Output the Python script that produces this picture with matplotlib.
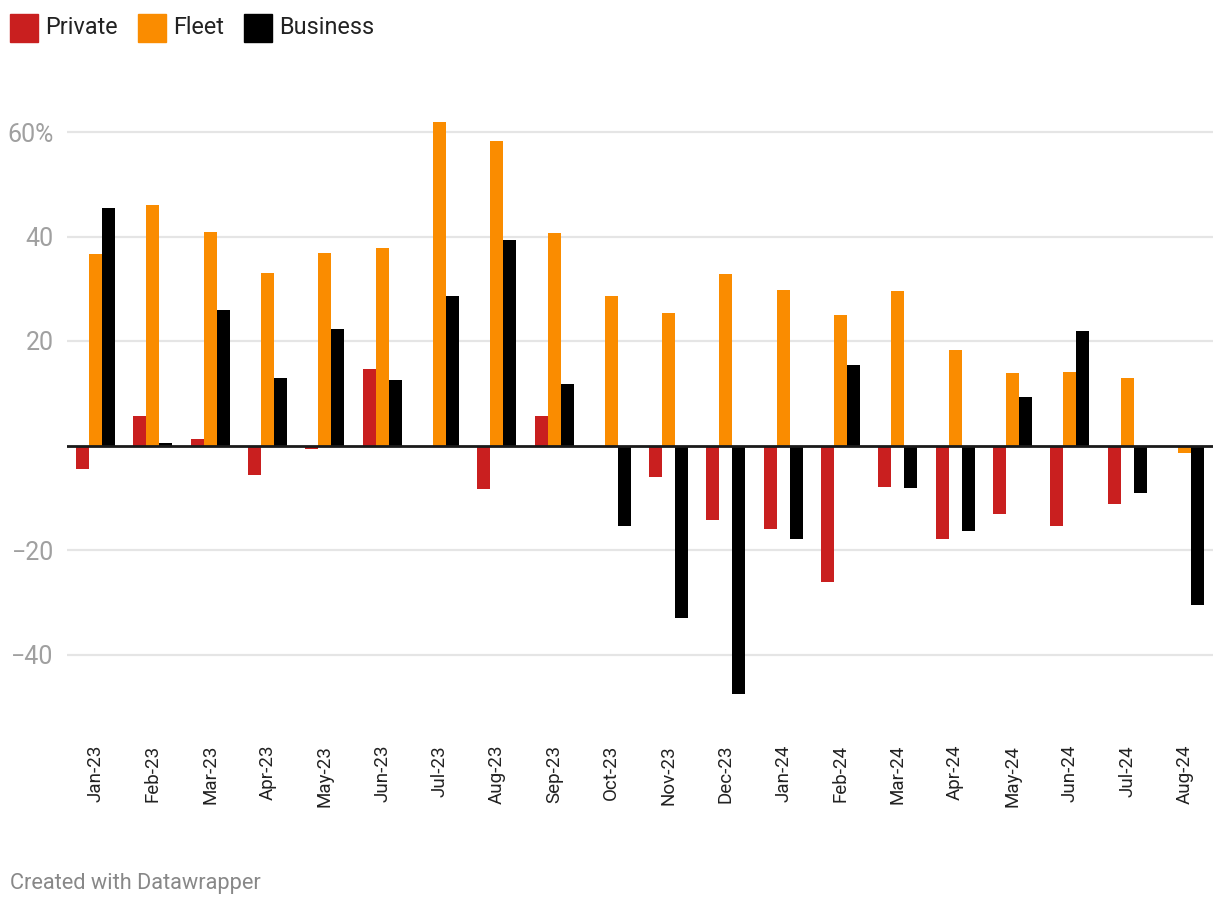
import matplotlib.pyplot as plt
from matplotlib.patches import Rectangle
import numpy as np

plt.rcParams['font.family'] = ['Roboto', 'DejaVu Sans']

months = ['Jan-23', 'Feb-23', 'Mar-23', 'Apr-23', 'May-23', 'Jun-23', 'Jul-23',
          'Aug-23', 'Sep-23', 'Oct-23', 'Nov-23', 'Dec-23', 'Jan-24', 'Feb-24',
          'Mar-24', 'Apr-24', 'May-24', 'Jun-24', 'Jul-24', 'Aug-24']
private = [-4.5, 5.6, 1.2, -5.6, -0.7, 14.6, 0, -8.3, 5.6, 0, -6.0, -14.3,
           -16.0, -26.1, -7.9, -17.9, -13.1, -15.4, -11.2, 0]
fleet = [36.6, 46.0, 40.9, 33.0, 36.8, 37.8, 61.9, 58.3, 40.7, 28.6, 25.4, 32.8,
         29.8, 25.0, 29.6, 18.3, 13.9, 14.1, 12.9, -1.4]
business = [45.5, 0.5, 25.9, 12.9, 22.3, 12.5, 28.6, 39.3, 11.8, -15.4, -33.0, -47.6,
            -17.9, 15.4, -8.1, -16.4, 9.3, 21.9, -9.1, -30.5]

series = ['Private', 'Fleet', 'Business']
colors = ['#c91f1f', '#fa8c00', '#000000']

fig = plt.figure(figsize=(12.2, 9.08), dpi=100)
ax = fig.add_axes([67/1220, 1-706.75/908, 1146/1220, 627/908])

x = np.arange(len(months))
w = 0.227
for i, (vals, c) in enumerate(zip([private, fleet, business], colors)):
    ax.bar(x + (i-1)*w, vals, width=w, color=c, zorder=3, linewidth=0)

ax.set_xlim(-0.5, len(months)-0.5)
ax.set_ylim(-50, 70)

yt = [-40, -20, 20, 40, 60]
ax.set_yticks(yt)
ax.set_yticklabels(['\u221240', '\u221220', '20', '40', '60%'])
for y in yt:
    ax.axhline(y, color='#e5e5e5', linewidth=1.6, zorder=1)
ax.axhline(0, color='#1a1a1a', linewidth=2, zorder=4)

ax.set_xticks(x)
ax.set_xticklabels(months, rotation=90, fontsize=13.5, color='#222222')
ax.tick_params(axis='x', length=0, pad=27.5)
ax.tick_params(axis='y', length=0, pad=9.5, labelsize=18, labelcolor='#a0a0a0')
for lbl in ax.get_xticklabels():
    lbl.set_verticalalignment('top')
    lbl.set_horizontalalignment('center')

for s in ax.spines.values():
    s.set_visible(False)

# legend
lx = [10, 138, 244]
for name, c, px in zip(series, colors, lx):
    fig.patches.append(Rectangle((px/1220, 1-42/908), 28/1220, 28/908,
                                 transform=fig.transFigure, color=c))
    fig.text((px+35)/1220, 1-28/908, name, fontsize=16.8, color='#222222',
             va='center', ha='left')

fig.text(10/1220, 1-883/908, 'Created with Datawrapper', fontsize=15.7,
         color='#888888', va='center', ha='left')

fig.savefig('out.png', dpi=100, facecolor='white')
